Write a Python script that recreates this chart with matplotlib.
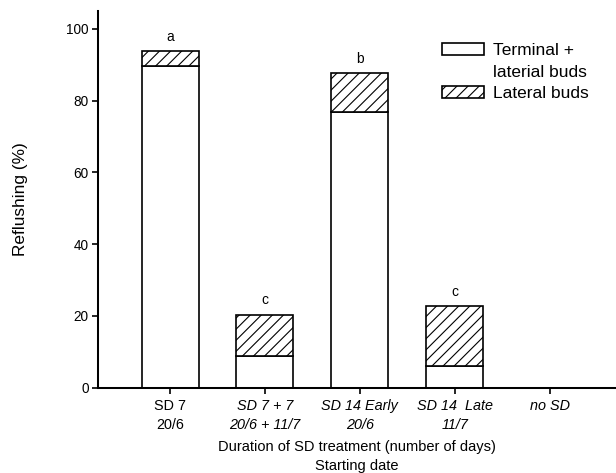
import matplotlib
matplotlib.use("Agg")
import matplotlib.pyplot as plt
from matplotlib.patches import Patch

plt.rcParams['font.family'] = ['Liberation Sans', 'DejaVu Sans']
plt.rcParams['hatch.linewidth'] = 0.6

categories = ['SD 7\n20/6', 'SD 7 + 7\n20/6 + 11/7', 'SD 14 Early\n20/6',
              'SD 14  Late\n11/7', 'no SD']
italic = [False, True, True, True, True]
terminal = [89.8, 8.8, 76.9, 6.0, 0.0]
lateral = [4.1, 11.6, 10.8, 16.8, 0.0]
letters = ['a', 'c', 'b', 'c', '']
yticks = [0, 20, 40, 60, 80, 100]

DPI = 400 / 3
fig = plt.figure(figsize=(616 / DPI, 473 / DPI), dpi=DPI)
ax = fig.add_axes([98 / 616, 85.3 / 473, 517 / 616, 376.7 / 473])

x = list(range(len(categories)))
lw = 0.9
b1 = ax.bar(x, terminal, width=0.6, color='white', edgecolor='black', linewidth=lw)
b2 = ax.bar(x, lateral, width=0.6, bottom=terminal, color='white', edgecolor='black',
            linewidth=lw, hatch='////')

for xi, t, l, s in zip(x, terminal, lateral, letters):
    if s:
        ax.text(xi, t + l + 2.0, s, ha='center', va='bottom', fontsize=7.5)

ax.set_xlim(-0.76, 4.69)
ax.set_ylim(0, 105)
ax.set_yticks(yticks)
ax.set_xticks(x)
ax.set_xticklabels(categories, fontsize=7.8, linespacing=1.5)
for lab, it in zip(ax.get_xticklabels(), italic):
    if it:
        lab.set_style('italic')
ax.tick_params(axis='y', labelsize=7.4, length=3, width=0.9, direction='out', pad=2)
ax.tick_params(axis='x', length=3, width=0.9, direction='out', pad=3)

for s in ['top', 'right']:
    ax.spines[s].set_visible(False)
for s in ['left', 'bottom']:
    ax.spines[s].set_linewidth(1.1)

ax.set_ylabel('Reflushing (%)', fontsize=9.3)
ax.yaxis.set_label_coords((28 - 98) / 518, 0.5)
ax.set_xlabel('Duration of SD treatment (number of days)\nStarting date',
              fontsize=7.9, linespacing=1.5, labelpad=4)

blank = Patch(facecolor='none', edgecolor='none', linewidth=0)
leg = ax.legend([b1, blank, b2], ['Terminal +', 'laterial buds', 'Lateral buds'],
                loc='upper left', frameon=False, fontsize=9.4,
                handlelength=2.4, handleheight=0.7, handletextpad=0.55,
                labelspacing=0.36, borderpad=0.3)
leg.set_bbox_to_anchor((428 / 616, 1 - 29 / 473), transform=fig.transFigure)

fig.savefig('out.png', dpi=DPI)
